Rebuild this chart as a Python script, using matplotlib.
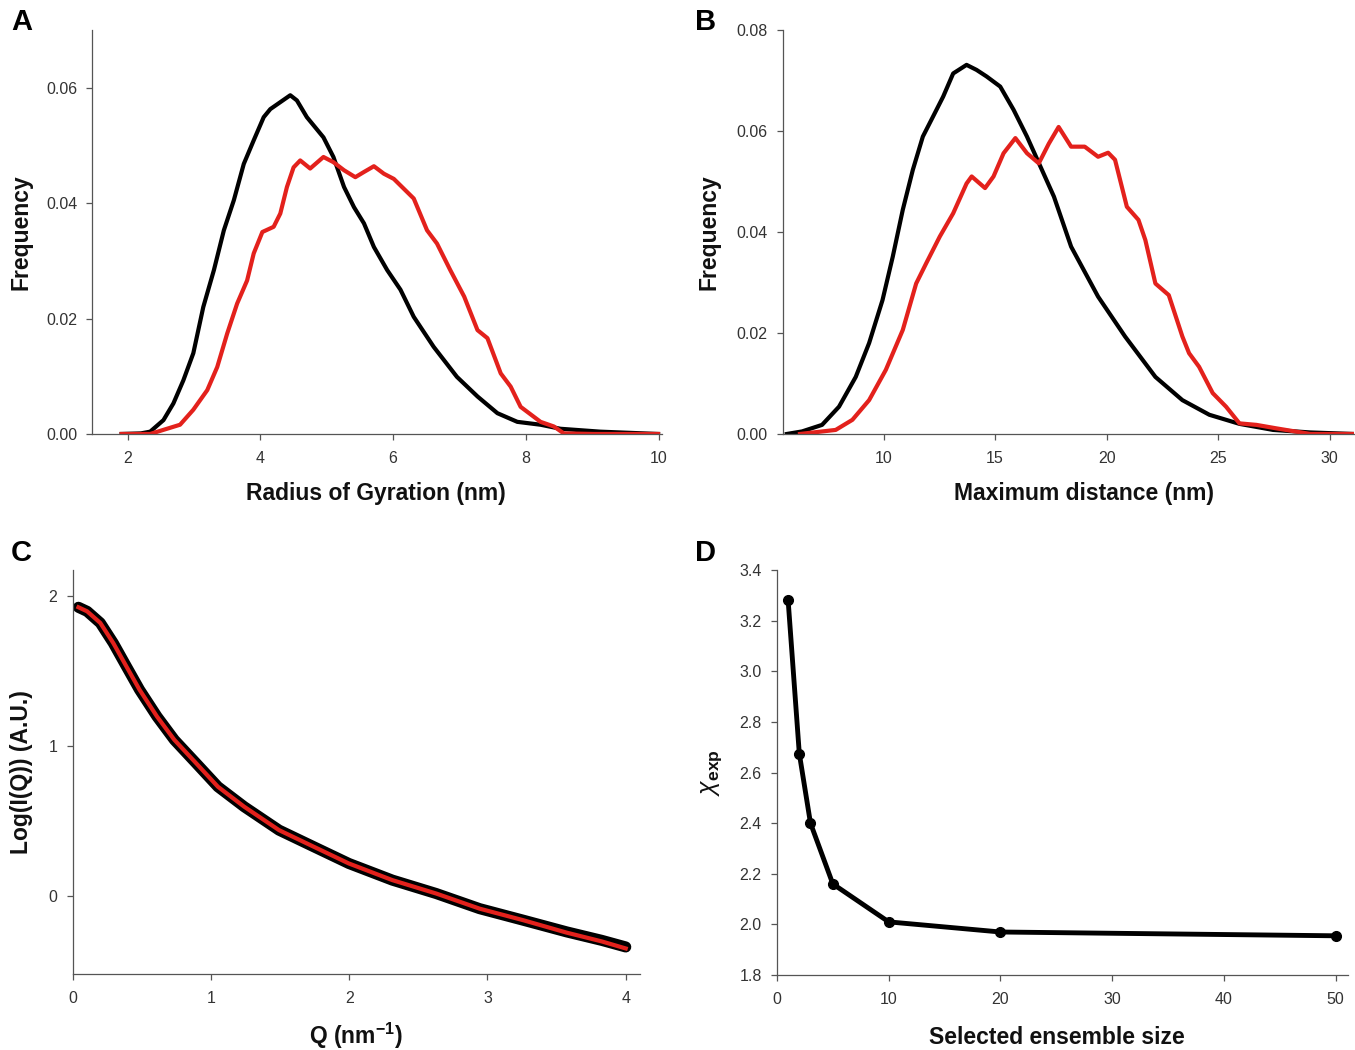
import numpy as np
import matplotlib
matplotlib.use("Agg")
import matplotlib.pyplot as plt

# fonts: arial-like
plt.rcParams['font.family'] = ['Liberation Sans', 'DejaVu Sans']
plt.rcParams['mathtext.fontset'] = 'custom'
plt.rcParams['mathtext.rm'] = 'Liberation Sans'
plt.rcParams['mathtext.it'] = 'Liberation Sans:italic'
plt.rcParams['mathtext.bf'] = 'Liberation Sans:bold'
plt.rcParams['lines.solid_joinstyle'] = 'round'
tick_family = ['Liberation Sans Narrow', 'Liberation Sans', 'DejaVu Sans']

RED = '#e3211c'

# panel A - radius of gyration distributions (pool = black, selected = red)
rg_pool_x = [1.91, 2.20, 2.34, 2.54, 2.69, 2.84, 2.99, 3.14, 3.30, 3.45, 3.60, 3.75, 3.90, 4.05,
             4.15, 4.30, 4.45, 4.55, 4.70, 4.80, 4.95, 5.10, 5.26, 5.41, 5.56, 5.71, 5.91, 6.11,
             6.31, 6.61, 6.96, 7.27, 7.57, 7.87, 8.22, 8.52, 9.12, 9.99]
rg_pool_y = [0.0, 0.0001, 0.0004, 0.0024, 0.0053, 0.0093, 0.014, 0.022, 0.0284, 0.0353, 0.0405,
             0.0468, 0.0509, 0.0549, 0.0563, 0.0575, 0.0587, 0.0578, 0.0549, 0.0535, 0.0514, 0.048,
             0.0428, 0.0393, 0.0365, 0.0324, 0.0284, 0.0250, 0.0203, 0.0151, 0.0099, 0.0065, 0.0036,
             0.0021, 0.0016, 0.0009, 0.0004, 0.0]
rg_sel_x = [1.91, 2.34, 2.79, 2.99, 3.20, 3.35, 3.50, 3.65, 3.80, 3.90, 4.03, 4.20, 4.30, 4.40,
            4.50, 4.60, 4.75, 4.95, 5.10, 5.26, 5.43, 5.56, 5.71, 5.86, 6.01, 6.16, 6.31, 6.51,
            6.66, 6.86, 7.07, 7.27, 7.42, 7.62, 7.77, 7.92, 8.22, 8.42, 8.57, 9.02, 9.99]
rg_sel_y = [0.0, 0.0, 0.0016, 0.0042, 0.0076, 0.0116, 0.0174, 0.0226, 0.0266, 0.0313, 0.035,
            0.0359, 0.0382, 0.0428, 0.0462, 0.0474, 0.046, 0.048, 0.0471, 0.0457, 0.0445, 0.0454,
            0.0464, 0.0451, 0.0442, 0.0425, 0.0408, 0.0353, 0.033, 0.0284, 0.0238, 0.018, 0.0166,
            0.0105, 0.0082, 0.0047, 0.0021, 0.0013, 0.0001, 0.0, 0.0]

# panel B - maximum distance distributions
dmax_pool_x = [5.66, 6.34, 7.24, 8.00, 8.75, 9.35, 9.95, 10.41, 10.86, 11.31, 11.76, 12.21, 12.67,
               13.12, 13.72, 14.17, 14.62, 15.23, 15.83, 16.43, 17.04, 17.64, 18.41, 19.62, 20.83,
               22.19, 23.40, 24.61, 25.96, 27.47, 29.14, 31.07]
dmax_pool_y = [0.0, 0.0005, 0.0018, 0.0054, 0.0113, 0.018, 0.0265, 0.0351, 0.0444, 0.0523, 0.0589,
               0.0628, 0.0668, 0.0714, 0.0731, 0.0721, 0.0708, 0.0688, 0.0642, 0.0589, 0.0529,
               0.047, 0.0371, 0.0272, 0.0193, 0.0113, 0.0067, 0.0038, 0.002, 0.0008, 0.0003, 0.0]
dmax_sel_x = [6.25, 7.85, 8.60, 9.35, 10.10, 10.86, 11.46, 11.91, 12.52, 13.12, 13.72, 13.95,
              14.55, 14.93, 15.38, 15.91, 16.43, 16.96, 17.41, 17.85, 18.41, 19.02, 19.62, 20.07,
              20.38, 20.91, 21.43, 21.74, 22.19, 22.79, 23.40, 23.70, 24.15, 24.76, 25.36, 25.96,
              26.72, 27.63, 29.14, 31.07]
dmax_sel_y = [0.0, 0.0008, 0.0028, 0.0067, 0.0127, 0.0206, 0.0298, 0.0338, 0.0391, 0.0437, 0.0496,
              0.051, 0.0487, 0.051, 0.0556, 0.0586, 0.0556, 0.0536, 0.0575, 0.0608, 0.0569, 0.0569,
              0.0549, 0.0557, 0.0543, 0.045, 0.0424, 0.0384, 0.0298, 0.0275, 0.0193, 0.016, 0.0133,
              0.0081, 0.0054, 0.0021, 0.0018, 0.0011, 0.0, 0.0]

# panel C - SAXS curve and ensemble fit
q_nm = [0.041, 0.104, 0.199, 0.293, 0.388, 0.483, 0.609, 0.735, 0.893, 1.050, 1.240, 1.492,
        1.744, 1.997, 2.312, 2.628, 2.943, 3.259, 3.574, 3.826, 4.0]
log_iq_exp = [1.922, 1.895, 1.818, 1.684, 1.528, 1.373, 1.195, 1.039, 0.883, 0.727, 0.594, 0.438,
              0.327, 0.216, 0.105, 0.016, -0.085, -0.162, -0.240, -0.296, -0.340]
log_iq_fit = [1.922, 1.895, 1.818, 1.684, 1.528, 1.373, 1.195, 1.039, 0.883, 0.727, 0.594, 0.438,
              0.327, 0.216, 0.105, 0.016, -0.085, -0.162, -0.245, -0.303, -0.350]

# panel D - chi vs ensemble size
ens_size = [1, 2, 3, 5, 10, 20, 50]
chi_exp = [3.28, 2.675, 2.40, 2.16, 2.01, 1.97, 1.955]

fig = plt.figure(figsize=(13.55, 10.5), dpi=100)

def style_axes(ax):
    for s in ['top', 'right']:
        ax.spines[s].set_visible(False)
    for s in ['left', 'bottom']:
        ax.spines[s].set_color('#555555')
        ax.spines[s].set_linewidth(0.9)
    ax.tick_params(direction='out', length=4, width=0.9, color='#555555',
                   labelsize=11.5, labelcolor='#333333')
    ax.tick_params(axis='x', pad=8)
    ax.tick_params(axis='y', pad=7)
    for lab in ax.get_xticklabels() + ax.get_yticklabels():
        lab.set_family(tick_family)

lab_kw = dict(fontsize=16.5, fontweight='bold', color='#111111')

# A
axA = fig.add_axes([0.0682, 0.5867, 0.4204, 0.3847])
axA.plot(rg_pool_x, rg_pool_y, color='black', lw=3)
axA.plot(rg_sel_x, rg_sel_y, color=RED, lw=3)
axA.set_xlim(1.47, 10.05)
axA.set_ylim(0, 0.07)
axA.set_xticks([2, 4, 6, 8, 10])
axA.set_yticks([0, 0.02, 0.04, 0.06])
axA.set_yticklabels(['0.00', '0.02', '0.04', '0.06'])
axA.set_xlabel('Radius of Gyration (nm)', **lab_kw)
axA.set_ylabel('Frequency', **lab_kw)
style_axes(axA)
axA.xaxis.set_label_coords(0.498, -0.12)
axA.yaxis.set_label_coords(-0.105, 0.5)

# B
axB = fig.add_axes([0.5779, 0.5867, 0.4214, 0.3847])
axB.plot(dmax_pool_x, dmax_pool_y, color='black', lw=3)
axB.plot(dmax_sel_x, dmax_sel_y, color=RED, lw=3)
axB.set_xlim(5.49, 31.1)
axB.set_ylim(0, 0.08)
axB.set_xticks([10, 15, 20, 25, 30])
axB.set_yticks([0, 0.02, 0.04, 0.06, 0.08])
axB.set_yticklabels(['0.00', '0.02', '0.04', '0.06', '0.08'])
axB.set_xlabel('Maximum distance (nm)', **lab_kw)
axB.set_ylabel('Frequency', **lab_kw)
style_axes(axB)
axB.xaxis.set_label_coords(0.527, -0.12)
axB.yaxis.set_label_coords(-0.109, 0.5)

# C
axC = fig.add_axes([0.0537, 0.0724, 0.4183, 0.3847])
axC.plot(q_nm, log_iq_exp, color='black', lw=8, solid_capstyle='round')
axC.plot(q_nm, log_iq_fit, color=RED, lw=3)
axC.set_xlim(0, 4.1)
axC.set_ylim(-0.52, 2.17)
axC.set_xticks([0, 1, 2, 3, 4])
axC.set_yticks([0, 1, 2])
axC.set_xlabel(r'Q (nm$^{\mathbf{-1}}$)', **lab_kw)
axC.set_ylabel('Log(I(Q)) (A.U.)', **lab_kw)
style_axes(axC)
axC.xaxis.set_label_coords(0.5, -0.115)
axC.yaxis.set_label_coords(-0.07, 0.5)

# D
axD = fig.add_axes([0.5734, 0.0714, 0.4214, 0.3857])
axD.plot(ens_size, chi_exp, color='black', lw=3.5, marker='o', markersize=7)
axD.set_xlim(0, 51.1)
axD.set_ylim(1.8, 3.4)
axD.set_xticks([0, 10, 20, 30, 40, 50])
axD.set_yticks(np.round(np.arange(1.8, 3.41, 0.2), 1))
axD.set_yticklabels(['%.1f' % v for v in np.arange(1.8, 3.41, 0.2)])
axD.set_xlabel('Selected ensemble size', **lab_kw)
axD.set_ylabel(r'$\chi_{\mathbf{exp}}$', fontsize=18, color='#111111')
style_axes(axD)
axD.xaxis.set_label_coords(0.49, -0.125)
axD.yaxis.set_label_coords(-0.093, 0.5)

# panel letters
for letter, x, y in [('A', 0.008, 0.992), ('B', 0.513, 0.992), ('C', 0.008, 0.487), ('D', 0.513, 0.487)]:
    fig.text(x, y, letter, fontsize=21, fontweight='bold', va='top', ha='left')

fig.savefig('out.png', dpi=100)
